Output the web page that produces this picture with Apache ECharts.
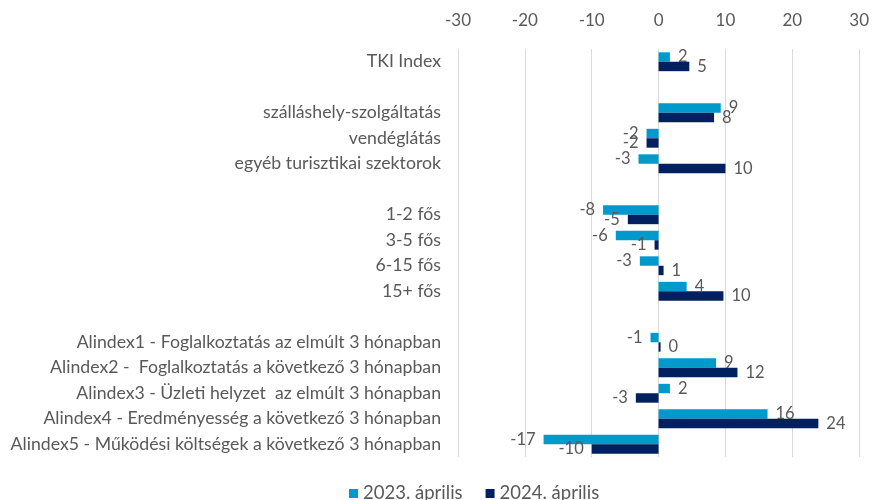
<!DOCTYPE html>
<html><head><meta charset="utf-8">
<script src="https://cdn.jsdelivr.net/npm/echarts@6/dist/echarts.min.js"></script>
<style>html,body{margin:0;padding:0;background:#fff}#c{width:872px;height:500px}</style>
</head><body><div id="c"></div>
<script>
const categories = ['TKI Index', '', 'szálláshely-szolgáltatás', 'vendéglátás', 'egyéb turisztikai szektorok', ' ',
  '1-2 fős', '3-5 fős', '6-15 fős', '15+ fős', '  ',
  'Alindex1 - Foglalkoztatás az elmúlt 3 hónapban',
  'Alindex2 -  Foglalkoztatás a következő 3 hónapban',
  'Alindex3 - Üzleti helyzet  az elmúlt 3 hónapban',
  'Alindex4 - Eredményesség a következő 3 hónapban',
  'Alindex5 - Működési költségek a következő 3 hónapban'];
const series2023 = [1.7, null, 9.3, -1.8, -3.0, null, -8.3, -6.4, -2.8, 4.2, null, -1.2, 8.6, 1.7, 16.3, -17.2];
const series2024 = [4.6, null, 8.3, -1.8, 10.0, null, -4.6, -0.6, 0.75, 9.7, null, 0.3, 11.8, -3.4, 23.9, -10.0];
const xTicks = [-30, -20, -10, 0, 10, 20, 30];
const seriesNames = ['2023. április', '2024. április'];
const colors = ['#0099cc', '#002060'];
const FONT = 'Lato';
function mk(arr){
  return arr.map(v => v === null ? null : {value: v, label: {position: v < 0 ? 'left' : 'right'}});
}
const chart = echarts.init(document.getElementById('c'));
chart.setOption({
  animation: false,
  textStyle: {fontFamily: FONT},
  grid: {left: 458, right: 11, top: 49, bottom: 43, containLabel: false},
  legend: {bottom: -8, left: 344, itemWidth: 9, itemHeight: 9, itemGap: 23,
    textStyle: {color: '#595959', fontSize: 18.5, fontFamily: FONT}, icon: 'rect',
    data: seriesNames},
  xAxis: {type: 'value', position: 'top', min: xTicks[0], max: xTicks[xTicks.length-1], interval: 10,
    axisLine: {show: false}, axisTick: {show: false},
    splitLine: {lineStyle: {color: '#d9d9d9', width: 1}},
    axisLabel: {color: '#595959', fontSize: 17, margin: 20, fontFamily: FONT}},
  yAxis: {type: 'category', inverse: true, data: categories,
    axisLine: {show: false}, axisTick: {show: false},
    axisLabel: {color: '#595959', fontSize: 17.7, margin: 17, fontFamily: FONT}},
  series: [
    {name: seriesNames[0], type: 'bar', data: mk(series2023), itemStyle: {color: colors[0]},
      barGap: '0%', barCategoryGap: '26%',
      label: {show: true, distance: 8, color: '#595959', fontSize: 16.5, fontFamily: FONT,
        formatter: p => String(Math.round(p.value))}},
    {name: seriesNames[1], type: 'bar', data: mk(series2024), itemStyle: {color: colors[1]},
      barGap: '0%', barCategoryGap: '26%',
      label: {show: true, distance: 8, color: '#595959', fontSize: 16.5, fontFamily: FONT,
        formatter: p => String(Math.round(p.value))}}
  ]
});
</script></body></html>
